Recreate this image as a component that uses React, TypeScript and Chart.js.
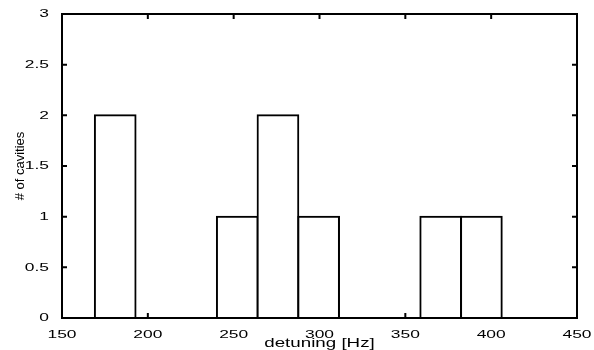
import React, { useEffect, useRef } from "react";
import { Chart, registerables } from "chart.js";

Chart.register(...registerables);

// Histogram bin centres (detuning, Hz) and counts
const binCenters = [181.0, 204.7, 228.4, 252.1, 275.8, 299.5, 323.2, 346.9, 370.6, 394.3];
const cavityCounts = [2, 0, 0, 1, 2, 1, 0, 0, 1, 1];
const xTickMin = 150;
const xTickMax = 450;
const xTickStep = 50;
const yTickMin = 0;
const yTickMax = 3;
const yTickStep = 0.5;
const xTitle = "detuning [Hz]";
const yTitle = "# of cavities";

const FONT = "'Liberation Sans', Arial, Helvetica, sans-serif";
const SX = 1.5; // horizontal widening of upright text, as in the reference

const framePlugin = {
  id: "matlabFrame",
  beforeDatasetsDraw(chart: any) {
    const { ctx, chartArea: a, scales } = chart;
    const len = 5;
    ctx.save();
    ctx.strokeStyle = "#000";
    ctx.lineWidth = 2;
    ctx.beginPath();
    scales.x.ticks.forEach((t: any) => {
      const px = scales.x.getPixelForValue(t.value);
      if (px <= a.left + 1 || px >= a.right - 1) return;
      ctx.moveTo(px, a.bottom);
      ctx.lineTo(px, a.bottom - len);
      ctx.moveTo(px, a.top);
      ctx.lineTo(px, a.top + len);
    });
    scales.y.ticks.forEach((t: any) => {
      const py = scales.y.getPixelForValue(t.value);
      if (py <= a.top + 1 || py >= a.bottom - 1) return;
      ctx.moveTo(a.left, py);
      ctx.lineTo(a.left + len, py);
      ctx.moveTo(a.right, py);
      ctx.lineTo(a.right - len, py);
    });
    ctx.stroke();
    ctx.restore();
  },
  afterDatasetsDraw(chart: any) {
    const { ctx, chartArea: a } = chart;
    ctx.save();
    ctx.strokeStyle = "#000";
    ctx.lineWidth = 2;
    ctx.strokeRect(a.left, a.top, a.right - a.left, a.bottom - a.top);
    ctx.restore();
  },
};

export default function App() {
  const ref = useRef<HTMLCanvasElement | null>(null);

  useEffect(() => {
    const canvas = ref.current;
    if (!canvas) return;
    const ctx = canvas.getContext("2d") as CanvasRenderingContext2D;
    const origFill = ctx.fillText;
    (ctx as any).fillText = function (text: string, x: number, y: number, maxWidth?: number) {
      const m = this.getTransform();
      if (Math.abs(m.b) < 1e-9 && Math.abs(m.c) < 1e-9) {
        this.save();
        this.translate(x, y);
        this.scale(SX, 1);
        origFill.call(this, text, 0, 0);
        this.restore();
      } else if (maxWidth !== undefined) {
        origFill.call(this, text, x, y, maxWidth);
      } else {
        origFill.call(this, text, x, y);
      }
    };

    const chart = new Chart(canvas, {
      type: "bar",
      data: {
        datasets: [
          {
            data: binCenters.map((c, i) => ({ x: c, y: cavityCounts[i] })),
            backgroundColor: "#ffffff",
            borderColor: "#000000",
            borderWidth: 2,
            inflateAmount: 1,
            barPercentage: 1,
            categoryPercentage: 1,
          } as any,
        ],
      },
      options: {
        animation: false,
        responsive: false,
        devicePixelRatio: 1,
        layout: { padding: { left: 0, right: 17, top: 14, bottom: 0 } },
        plugins: { legend: { display: false }, tooltip: { enabled: false } },
        scales: {
          x: {
            type: "linear",
            offset: false,
            min: xTickMin,
            max: xTickMax,
            grid: { display: false, offset: false },
            border: { display: false },
            ticks: {
              stepSize: xTickStep,
              color: "#000",
              padding: 2,
              maxRotation: 0,
              autoSkip: false,
              font: { family: FONT, size: 11.6 },
            },
            title: {
              display: true,
              text: xTitle,
              color: "#000",
              padding: 0,
              font: { family: FONT, size: 12.5, lineHeight: 1 },
            },
            afterFit: (s: any) => {
              s.height = 32;
            },
          },
          y: {
            type: "linear",
            min: yTickMin,
            max: yTickMax,
            grid: { display: false },
            border: { display: false },
            ticks: {
              stepSize: yTickStep,
              color: "#000",
              padding: 5,
              font: { family: FONT, size: 11.6 },
              callback: (v: any) => String(Number(v)),
            },
            title: {
              display: true,
              text: yTitle,
              color: "#000",
              padding: { top: 13, bottom: 0 },
              font: { family: FONT, size: 13 },
            },
            afterFit: (s: any) => {
              s.width = 62;
            },
          },
        },
      },
      plugins: [framePlugin],
    });

    return () => {
      chart.destroy();
      (ctx as any).fillText = origFill;
    };
  }, []);

  return (
    <div style={{ position: "absolute", left: 0, top: 0, width: 594, height: 350, background: "#fff" }}>
      <canvas ref={ref} width={594} height={350} style={{ display: "block" }} />
    </div>
  );
}
